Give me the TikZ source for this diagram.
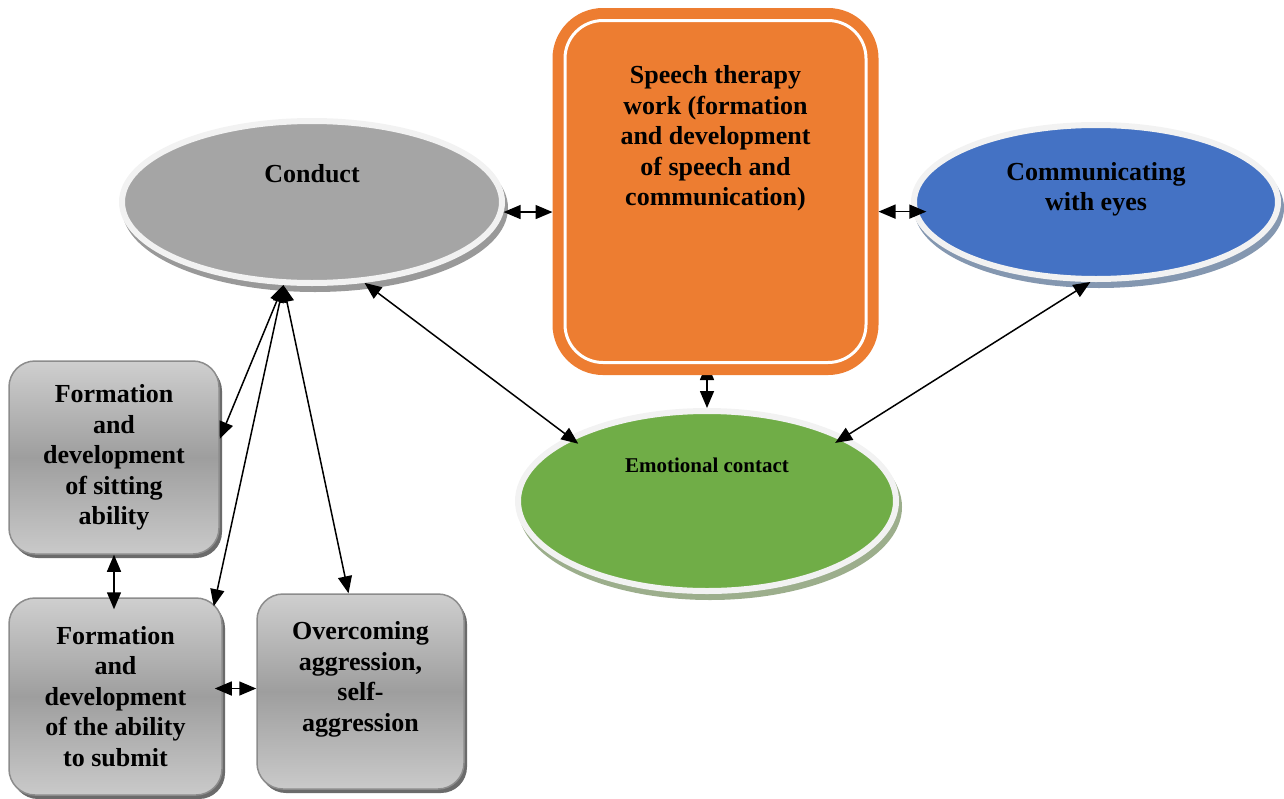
\documentclass[tikz,border=0pt]{standalone}
\usepackage{fontspec}
\setmainfont{Liberation Serif}
\usetikzlibrary{shapes.geometric,arrows.meta,backgrounds}

\definecolor{speechorange}{HTML}{ED7D31}
\definecolor{eyesblue}{HTML}{4472C4}
\definecolor{contactgreen}{HTML}{70AD47}
\definecolor{conductgray}{HTML}{A5A5A5}
\definecolor{rimgray}{HTML}{F2F2F2}
\definecolor{conductshade}{HTML}{999999}
\definecolor{eyesshade}{HTML}{8497B0}
\definecolor{contactshade}{HTML}{9CAE8C}

\tikzset{
  bubble/.style 2 args={ellipse, fill=#1, draw=rimgray, line width=6pt,
    preaction={fill=#2, draw=#2, line width=6pt, transform canvas={shift={(3pt,-6pt)}}}},
  skill/.style={rectangle, rounded corners=26pt, draw=black!45, line width=1.5pt,
    top color=black!19, bottom color=black!21, middle color=black!38, align=center,
    preaction={fill=black!58, transform canvas={shift={(3pt,-4pt)}}}},
  biarrow/.style={{Triangle[length=17pt,width=14pt]}-{Triangle[length=17pt,width=14pt]}, line width=1.5pt},
}

\begin{document}
\begin{tikzpicture}[x=1pt,y=-1pt,font=\bfseries\fontsize{26}{30.5}\selectfont]
\useasboundingbox (0,0) rectangle (1284,798);

% the three ovals
\node (conduct) at (312,202) [bubble={conductgray}{conductshade}, minimum width=380pt, minimum height=162pt,
  label={[name=conduct-text, yshift=28pt]center:Conduct}] {};
\node (eyes) at (1096,202) [bubble={eyesblue}{eyesshade}, minimum width=364pt, minimum height=154pt,
  label={[name=eyes-text, align=center, yshift=12.5pt]center:{Communicating\\with eyes}}] {};
\node (contact) at (707,501) [bubble={contactgreen}{contactshade}, minimum width=378pt, minimum height=180pt,
  label={[name=contact-text, yshift=36pt, font=\bfseries\fontsize{21}{25}\selectfont]center:Emotional contact}] {};

% speech therapy block
\node (speech) at (715.5,191.5) [rectangle, rounded corners=38pt, fill=speechorange, draw=white, line width=3pt,
  minimum width=301pt, minimum height=342pt, outer sep=12.5pt,
  preaction={draw=speechorange, line width=25pt},
  label={[name=speech-text, align=center, yshift=53pt]center:{Speech therapy\\work (formation\\and development\\of speech and\\communication)}}] {};

% gray blocks
\node (sitting) at (114,457.5) [skill, minimum width=210pt, minimum height=193pt] {Formation\\and\\development\\of sitting\\ability};
\node (submit) at (115.5,696.5) [skill, minimum width=213pt, minimum height=197pt] {Formation\\and\\development\\of the ability\\to submit};
\node (aggression) at (360.5,691.5) [skill, minimum width=207pt, minimum height=195pt,
  label={[name=aggression-text, align=center, yshift=12pt]center:{Overcoming\\aggression,\\self-\\aggression}}] {};

% connectors
\draw[biarrow] (conduct.-3) -- (conduct.-3 -| speech.west);
\draw[biarrow, shorten >=-14pt] (speech.east |- eyes.183) -- (eyes.183);
\draw[biarrow, shorten >=-12pt] (conduct.-57) -- (contact.155);
\draw[biarrow, shorten >=-12pt] (eyes.-94) -- (contact.25);
\draw[biarrow] (conduct.-109) -- (sitting.10);
\draw[biarrow] (conduct.-109) -- ([shift={(-9,9)}]submit.north east);
\draw[biarrow] (conduct.-109) -- ([xshift=-12pt]aggression.north);
\draw[biarrow, shorten >=-12pt] (sitting.south) -- (sitting.south |- submit.north);
\draw[biarrow, shorten <=-8pt] ([yshift=8pt]submit.east) -- ([yshift=8pt]submit.east -| aggression.west);
\begin{pgfonlayer}{background}
\draw[biarrow] ([yshift=12pt]speech.south -| contact.north) -- (contact.north);
\end{pgfonlayer}

\end{tikzpicture}
\end{document}
